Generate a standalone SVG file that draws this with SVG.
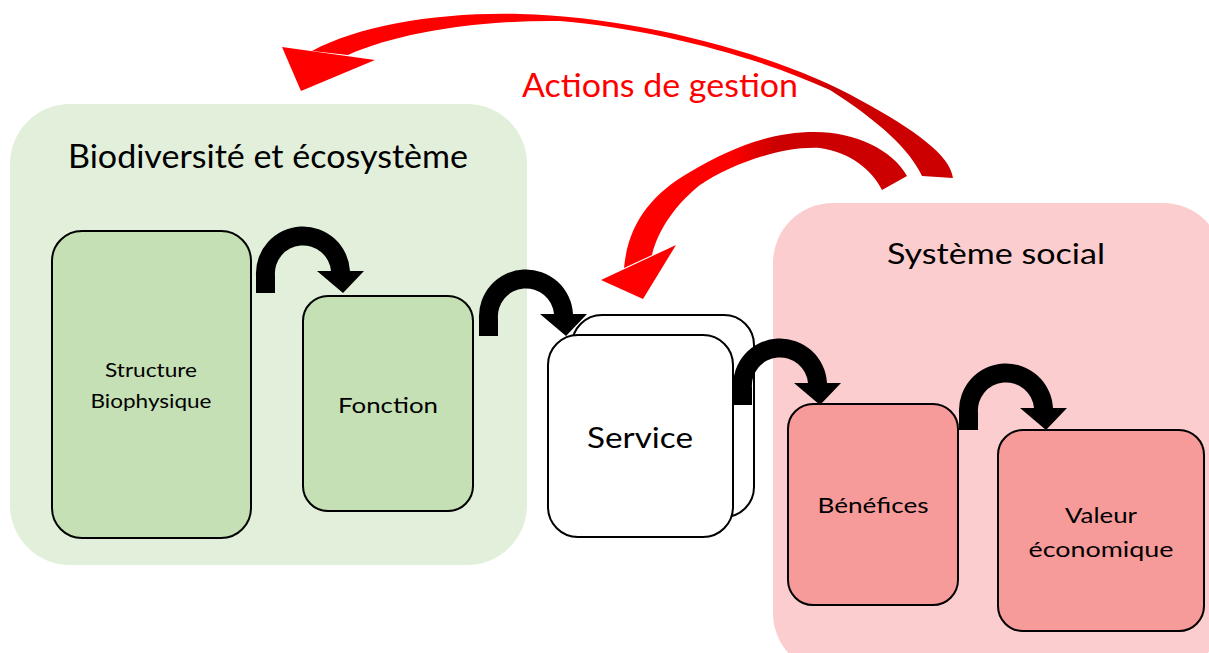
<svg xmlns="http://www.w3.org/2000/svg" width="1209" height="653" viewBox="0 0 1209 653">
<defs>
<style>
.t{font-family:Lato,"Open Sans","Liberation Sans",sans-serif;fill:#000;text-anchor:middle}
.box{stroke:#000;stroke-width:2}
.g{fill:#C5E0B4}
.p{fill:#F79A9A}
.w{fill:#FFFFFF}
</style>
<path id="carrow" d="M-47,17 L-47,0 A47,47 0 0 1 47,-5 L61,-5 L40,17 L14,-5 L28,-5 A28,28 0 0 0 -28,0 L-28,17 Z" fill="#000"/>
<linearGradient id="gBig" gradientUnits="userSpaceOnUse" x1="780" y1="0" x2="830" y2="0">
<stop offset="0" stop-color="#FF0000"/><stop offset="1" stop-color="#CC0000"/>
</linearGradient>
<linearGradient id="gSmall" gradientUnits="userSpaceOnUse" x1="730" y1="0" x2="775" y2="0">
<stop offset="0" stop-color="#FF0000"/><stop offset="1" stop-color="#CC0000"/>
</linearGradient>
</defs>
<rect width="1209" height="653" fill="#FFFFFF"/>
<g id="biodiversite">
<rect x="10" y="104" width="517" height="461" rx="60" fill="#E2EFDA"/>
<text class="t" x="268" y="168" font-size="32" textLength="400" lengthAdjust="spacingAndGlyphs">Biodiversité et écosystème</text>
</g>
<g id="systeme-social">
<rect x="773" y="203" width="450" height="470" rx="60" fill="#FBCDCE"/>
<text class="t" x="996" y="264" font-size="29" textLength="218" lengthAdjust="spacingAndGlyphs">Système social</text>
</g>
<g id="structure">
<rect class="box g" x="52" y="231" width="199" height="307" rx="30"/>
<text class="t" x="151" y="377" font-size="19.5" textLength="92" lengthAdjust="spacingAndGlyphs">Structure</text>
<text class="t" x="151" y="408" font-size="19.5" textLength="121" lengthAdjust="spacingAndGlyphs">Biophysique</text>
</g>
<g id="fonction">
<rect class="box g" x="303" y="296" width="170" height="215" rx="25"/>
<text class="t" x="388" y="413" font-size="22" textLength="100" lengthAdjust="spacingAndGlyphs">Fonction</text>
</g>
<g id="service">
<rect class="box w" x="572" y="315" width="182" height="202" rx="30"/>
<rect class="box w" x="548" y="335" width="185" height="202" rx="30"/>
<text class="t" x="640" y="448" font-size="29" textLength="106" lengthAdjust="spacingAndGlyphs">Service</text>
</g>
<g id="benefices">
<rect class="box p" x="788" y="404" width="170" height="201" rx="25"/>
<text class="t" x="873" y="513" font-size="21" textLength="111" lengthAdjust="spacingAndGlyphs">Bénéfices</text>
</g>
<g id="valeur">
<rect class="box p" x="998" y="430" width="206" height="201" rx="25"/>
<text class="t" x="1101" y="523" font-size="21" textLength="72" lengthAdjust="spacingAndGlyphs">Valeur</text>
<text class="t" x="1101" y="557" font-size="21" textLength="145" lengthAdjust="spacingAndGlyphs">économique</text>
</g>
<g id="connectors">
<use href="#carrow" transform="translate(303,276)"/>
<use href="#carrow" transform="translate(526,319)"/>
<use href="#carrow" transform="translate(780,388)"/>
<use href="#carrow" transform="translate(1006,413)"/>
<g id="actions-gestion">
<path d="M312,51 C360,25 440,12 520,14 C640,17 780,55 860,100 C915,130 950,155 953,178 L922,176 C910,150 880,122 830,90 C760,58 660,30 560,21 C480,20 400,32 348,55 Z" fill="url(#gBig)"/>
<path d="M282,47 L375,60 L301,91 Z" fill="#FF0000"/>
<path d="M624,268 C628,225 650,195 690,172 C730,148 770,132 815,132 C855,132 893,150 907,176 L882,190 C872,170 850,152 820,148 C780,146 730,165 700,185 C675,205 658,230 652,255 Z" fill="url(#gSmall)"/>
<path d="M601,280 L676,245 L643,299 Z" fill="#FF0000"/>
</g>
</g>
<text x="660" y="97" font-family="Lato,'Open Sans','Liberation Sans',sans-serif" font-size="33" fill="#FF0000" text-anchor="middle" textLength="276" lengthAdjust="spacingAndGlyphs">Actions de gestion</text>
</svg>
